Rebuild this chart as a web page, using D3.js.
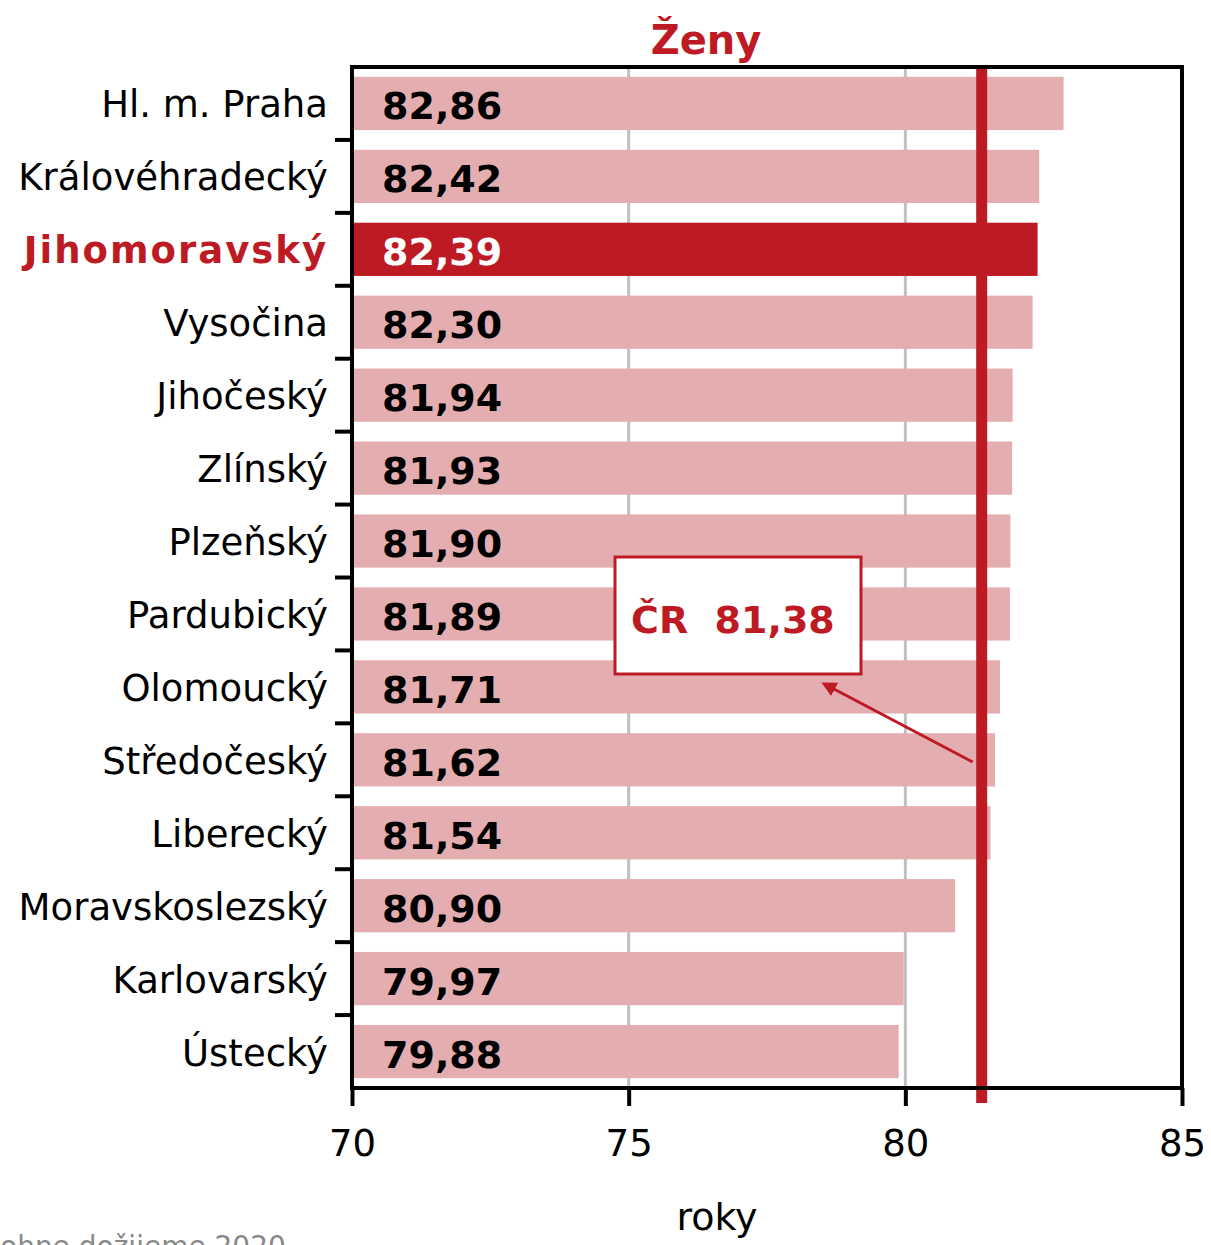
<!DOCTYPE html>
<html><head><meta charset="utf-8">
<script src="https://cdn.jsdelivr.net/npm/d3@7"></script>
<style>body{margin:0;background:#fff}svg{display:block}</style>
</head><body>
<script>
const categories = ["Hl. m. Praha","Královéhradecký","Jihomoravský","Vysočina","Jihočeský","Zlínský","Plzeňský","Pardubický","Olomoucký","Středočeský","Liberecký","Moravskoslezský","Karlovarský","Ústecký"];
const values = [82.86,82.42,82.39,82.30,81.94,81.93,81.90,81.89,81.71,81.62,81.54,80.90,79.97,79.88];
const highlight = "Jihomoravský";
const crValue = 81.38;
const xTicks = [70,75,80,85];
const title = "Ženy";
const xTitle = "roky";
const footnote = "ohne dožijeme 2020";

const W=1211,H=1245;
const m={l:352,r:1182,t:67,b:1088};
const red="#be1a24", pink="#e4aeb0";
const FF="DejaVu Sans, Verdana, sans-serif";
const svg=d3.select("body").append("svg").attr("width",W).attr("height",H);
const x=d3.scaleLinear().domain([70,85]).range([m.l,m.r]);
const y=d3.scaleBand().domain(categories).range([m.t,m.b]).paddingInner(0.27).paddingOuter(0.135);
const fmt=v=>v.toFixed(2).replace(".",",");

// gridlines
svg.append("g").selectAll("line").data(xTicks.slice(1,-1)).join("line")
 .attr("x1",d=>x(d)).attr("x2",d=>x(d)).attr("y1",m.t).attr("y2",m.b)
 .attr("stroke","#c0c0c0").attr("stroke-width",3);

// bars
svg.append("g").selectAll("rect").data(categories).join("rect")
 .attr("x",x(70)).attr("y",d=>y(d)).attr("height",y.bandwidth())
 .attr("width",(d,i)=>x(values[i])-x(70))
 .attr("fill",d=>d===highlight?red:pink);

// value labels
svg.append("g").selectAll("text").data(categories).join("text")
 .attr("x",382).attr("y",d=>y(d)+y.bandwidth()/2+16)
 .attr("font-family",FF).attr("font-weight","bold")
 .attr("font-size",38).attr("fill",d=>d===highlight?"#fff":"#000")
 .text((d,i)=>fmt(values[i]));

// CR line
svg.append("line").attr("x1",x(crValue)).attr("x2",x(crValue)).attr("y1",m.t).attr("y2",1103)
 .attr("stroke",red).attr("stroke-width",11);

// frame
svg.append("rect").attr("x",m.l).attr("y",m.t).attr("width",m.r-m.l).attr("height",m.b-m.t)
 .attr("fill","none").attr("stroke","#000").attr("stroke-width",4);

// y ticks at band boundaries
const bounds=categories.map(d=>y(d)-y.step()*y.paddingInner()/2).slice(1);
svg.append("g").selectAll("line").data(bounds).join("line")
 .attr("x1",m.l-17).attr("x2",m.l).attr("y1",d=>d).attr("y2",d=>d)
 .attr("stroke","#000").attr("stroke-width",4);

// category labels
svg.append("g").selectAll("text").data(categories).join("text")
 .attr("x",328).attr("y",d=>y(d)+y.bandwidth()/2+14).attr("text-anchor","end")
 .attr("font-family",FF).attr("font-size",37)
 .attr("font-weight",d=>d===highlight?"bold":"normal")
 .attr("letter-spacing",d=>d===highlight?2:0)
 .attr("fill",d=>d===highlight?red:"#000").text(d=>d);

// x axis
const xa=svg.append("g").attr("transform",`translate(0,${m.b})`)
 .call(d3.axisBottom(x).tickValues(xTicks).tickSize(18).tickPadding(24).tickFormat(d3.format("d")));
xa.select(".domain").remove();
xa.selectAll("line").attr("stroke","#000").attr("stroke-width",4);
xa.selectAll("text").attr("font-family",FF).attr("font-size",37).attr("fill","#000");

// title
svg.append("text").attr("x",706).attr("y",54).attr("text-anchor","middle")
 .attr("font-family",FF).attr("font-weight","bold")
 .attr("font-size",40).attr("fill",red).text(title);
svg.append("text").attr("x",717).attr("y",1230).attr("text-anchor","middle")
 .attr("font-family",FF).attr("font-size",38).attr("fill","#000").text(xTitle);

// annotation
const defs=svg.append("defs");
defs.append("marker").attr("id","ah").attr("viewBox","0 0 10 10").attr("refX",2).attr("refY",5)
 .attr("markerWidth",5).attr("markerHeight",5).attr("orient","auto")
 .append("path").attr("d","M0,0L10,5L0,10z").attr("fill",red);
svg.append("line").attr("x1",x(crValue)-9).attr("y1",762).attr("x2",832).attr("y2",688)
 .attr("stroke",red).attr("stroke-width",3).attr("marker-end","url(#ah)");
svg.append("rect").attr("x",615).attr("y",557).attr("width",246).attr("height",117)
 .attr("fill","#fff").attr("stroke",red).attr("stroke-width",3);
svg.append("text").attr("x",631).attr("y",633).attr("xml:space","preserve")
 .attr("font-family",FF).attr("font-weight","bold")
 .attr("font-size",38).attr("fill",red).text("ČR  "+fmt(crValue));

// footnote (partly outside the picture, as in the reference)
svg.append("text").attr("x",0).attr("y",1256)
 .attr("font-family",FF).attr("font-size",28).attr("fill","#888")
 .text(footnote);
</script>
</body></html>
